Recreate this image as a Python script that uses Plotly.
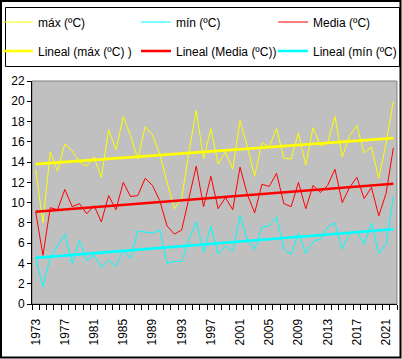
import numpy as np
import plotly.graph_objects as go

years = list(range(1973, 2023))
tmax = [13.3, 8.0, 15.0, 13.1, 15.8, 15.1, 14.0, 13.6, 14.5, 12.5,
        17.2, 15.2, 18.5, 16.6, 14.3, 17.5, 16.7, 14.8, 12.0, 9.4,
        10.4, 15.0, 19.1, 14.3, 17.3, 13.8, 15.0, 13.3, 18.1, 15.5,
        12.6, 15.9, 15.5, 17.3, 14.4, 14.3, 16.9, 13.7, 17.4, 15.6,
        15.9, 18.5, 14.5, 16.6, 17.6, 14.9, 15.5, 12.4, 15.8, 20.0]
tmin = [4.5, 1.7, 4.6, 5.7, 6.9, 4.0, 6.25, 4.3, 4.8, 3.6,
        4.3, 3.7, 5.3, 4.5, 7.2, 7.1, 7.0, 7.3, 4.0, 4.2,
        4.2, 6.4, 8.1, 5.1, 7.7, 4.9, 5.7, 5.2, 8.7, 6.3,
        5.4, 7.6, 7.7, 8.6, 5.4, 4.9, 7.0, 5.0, 6.15, 6.4,
        7.6, 8.0, 5.4, 7.0, 7.2, 5.9, 8.0, 5.0, 5.9, 10.6]
tmed = [9.1, 4.8, 9.5, 9.3, 11.3, 9.6, 9.9, 8.9, 9.7, 8.1,
        10.7, 9.3, 12.0, 10.6, 10.7, 12.4, 11.7, 10.2, 7.7, 6.9,
        7.3, 10.4, 13.6, 9.6, 12.6, 9.4, 10.5, 9.3, 13.5, 10.8,
        9.0, 11.8, 11.6, 12.9, 9.9, 9.6, 12.0, 9.4, 11.7, 11.0,
        11.7, 13.3, 10.0, 11.5, 12.5, 10.4, 11.5, 8.7, 10.9, 15.4]
tick_years = list(range(1973, 2023, 4))
tick_labels = [str(y) for y in tick_years]
y_ticks = list(range(0, 23, 2))

names = ["máx (ºC)", "mín (ºC)", "Media (ºC)"]
trend_names = ["Lineal (máx (ºC) )", "Lineal (Media (ºC))", "Lineal (mín (ºC)"]

YELLOW, CYAN, RED = "#FFFF00", "#00FFFF", "#FF0000"
FONT = "Liberation Sans, Arial, sans-serif"
W, H = 402, 359
PL, PR, PT, PB = 32, 397, 81, 304
COL_TEXT_X = [38, 176, 313]   # legend text start per column (px)
ROW_Y = [22, 51]              # legend row centres (px)


def px(x):
    return x / W


def py(y):
    return 1 - y / H


def trend(values):
    c = np.polyfit(years, values, 1)
    return list(np.polyval(c, years))


fig = go.Figure()
series = [
    (tmax, names[0], YELLOW, 1, 0, 0),
    (tmin, names[1], CYAN, 1, 0, 1),
    (tmed, names[2], RED, 1, 0, 2),
]
trends = [
    (tmax, trend_names[0], YELLOW, 2.6, 1, 0),
    (tmed, trend_names[1], RED, 2.6, 1, 1),
    (tmin, trend_names[2], CYAN, 2.6, 1, 2),
]

legends = {}
k = 0
for group, is_trend in [(series, False), (trends, True)]:
    for vals, nm, col, lw, row, colidx in group:
        k += 1
        lid = "legend" if k == 1 else f"legend{k}"
        yv = trend(vals) if is_trend else vals
        fig.add_trace(go.Scatter(x=years, y=yv, mode="lines", name=nm,
                                 line=dict(color=col, width=lw), legend=lid))
        legends[lid] = dict(
            x=px(COL_TEXT_X[colidx] - 40), xanchor="left",
            y=py(ROW_Y[row]), yanchor="middle",
            orientation="v", bgcolor="rgba(0,0,0,0)", borderwidth=0,
            font=dict(family=FONT, size=12, color="black"),
        )

fig.update_layout(
    width=W, height=H,
    margin=dict(l=0, r=0, t=0, b=0, autoexpand=False),
    paper_bgcolor="white",
    plot_bgcolor="#C0C0C0",
    font=dict(family=FONT, size=12, color="black"),
    showlegend=True,
    xaxis=dict(
        domain=[px(PL), px(PR)],
        range=[1972.5, 2022.5],
        tickmode="array", tickvals=tick_years, ticktext=tick_labels,
        tickangle=-90, ticks="", ticklabelstandoff=9,
        showline=True, linecolor="black", linewidth=1,
        showgrid=False, zeroline=False, automargin=False,
        tickfont=dict(family=FONT, size=12, color="black"),
        minor=dict(tickmode="linear", tick0=1972.5, dtick=1, ticks="outside",
                   ticklen=5, tickcolor="black", tickwidth=1, showgrid=False),
    ),
    yaxis=dict(
        domain=[py(PB), py(PT)],
        range=[0, 22],
        tickmode="array", tickvals=y_ticks,
        ticks="outside", ticklen=4, tickcolor="black",
        showline=True, linecolor="black", linewidth=1,
        showgrid=False, zeroline=False, automargin=False,
        tickfont=dict(family=FONT, size=12, color="black"),
    ),
    shapes=[
        dict(type="rect", xref="x domain", yref="y domain", x0=0, x1=1, y0=0, y1=1,
             line=dict(color="#808080", width=1), fillcolor="rgba(0,0,0,0)", layer="below"),
        dict(type="rect", xref="paper", yref="paper", x0=px(5.5), x1=px(399.5), y0=py(66.5), y1=py(7.5),
             line=dict(color="black", width=1), fillcolor="rgba(0,0,0,0)"),
        dict(type="rect", xref="paper", yref="paper", x0=px(1), x1=px(400.5), y0=py(357.5), y1=py(1),
             line=dict(color="black", width=2), fillcolor="rgba(0,0,0,0)"),
    ],
)
fig.update_layout(**legends)

fig.write_html("out.html", config={"displayModeBar": False},
               post_script="document.body.style.margin='0';")
